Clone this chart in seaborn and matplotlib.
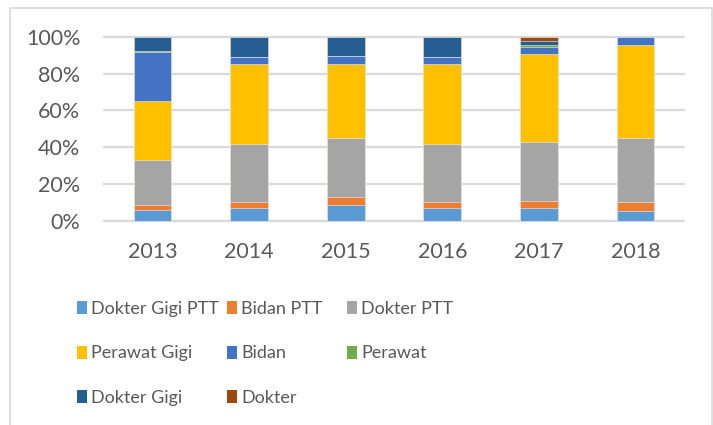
import numpy as np
import pandas as pd
import matplotlib.pyplot as plt
import seaborn as sns
from matplotlib.patches import Rectangle, Patch
from matplotlib.ticker import PercentFormatter

# === Data (share of each staff type per year, %) ===
years = ["2013", "2014", "2015", "2016", "2017", "2018"]
series = ["Dokter Gigi PTT", "Bidan PTT", "Dokter PTT", "Perawat Gigi",
          "Bidan", "Perawat", "Dokter Gigi", "Dokter"]
dokter_gigi_ptt = [6.0, 7.2, 8.8, 7.2, 7.2, 5.3]
bidan_ptt = [2.5, 3.3, 4.4, 3.3, 3.7, 5.0]
dokter_ptt = [24.5, 31.5, 32.0, 31.5, 32.1, 34.6]
perawat_gigi = [32.0, 43.4, 40.2, 43.4, 47.5, 50.8]
bidan = [26.5, 3.6, 4.1, 3.6, 4.1, 4.3]
perawat = [0.8, 0.0, 0.2, 0.0, 0.7, 0.0]
dokter_gigi = [7.5, 10.7, 10.0, 10.7, 2.3, 0.0]
dokter = [0.2, 0.3, 0.3, 0.3, 2.4, 0.0]
colors = ["#5B9BD5", "#ED7D31", "#A5A5A5", "#FFC000",
          "#4472C4", "#70AD47", "#255E91", "#9E480E"]

values = [dokter_gigi_ptt, bidan_ptt, dokter_ptt, perawat_gigi,
          bidan, perawat, dokter_gigi, dokter]
df = pd.DataFrame(np.array(values).T, columns=series, index=years)
df = df.div(df.sum(axis=1), axis=0)
cum = df.cumsum(axis=1).reset_index().rename(columns={"index": "Year"})

sns.set_theme(style="white")
plt.rcParams["font.family"] = ["Lato", "DejaVu Sans"]
text_col = "#595959"

fig = plt.figure(figsize=(7.13, 4.25), dpi=100)
ax = fig.add_axes([0.1459, 0.48, 0.8134, 0.4336])

# stacked bars: draw cumulative totals from top to bottom
for name, col in reversed(list(zip(series, colors))):
    sns.barplot(data=cum, x="Year", y=name, color=col, width=0.39,
                saturation=1, edgecolor="#f2f2f2", linewidth=0.4, ax=ax)

ax.set_ylim(0, 1)
ax.set_xlim(-0.5, 5.5)
ax.set_yticks(np.linspace(0, 1, 6))
ax.yaxis.set_major_formatter(PercentFormatter(1.0, decimals=0))
ax.set_xlabel("")
ax.set_ylabel("")
ax.grid(axis="y", color="#d9d9d9", linewidth=1.6)
ax.set_axisbelow(True)
for line in ax.get_ygridlines():
    line.set_clip_on(False)
for s in ax.spines.values():
    s.set_visible(False)
ax.tick_params(axis="y", length=0, pad=17, labelsize=15.5, labelcolor=text_col)
ax.tick_params(axis="x", length=0, pad=15, labelsize=15.5, labelcolor=text_col)

# legend: three fixed-width columns, filled row by row like the original
col_x = [77 / 713, 227 / 713, 347 / 713]
for c in range(3):
    idx = list(range(c, len(series), 3))
    handles = [Patch(facecolor=colors[i], edgecolor="none") for i in idx]
    labels = [series[i] for i in idx]
    fig.legend(handles, labels, loc="upper left",
               bbox_to_anchor=(col_x[c], 0.292), frameon=False,
               fontsize=13, labelcolor=text_col, handlelength=0.55,
               handleheight=0.75, handletextpad=0.25, labelspacing=1.58,
               borderpad=0, borderaxespad=0)

# chart frame
fig.patches.append(Rectangle((10 / 713, -0.05), 702 / 713, 1.05 - 8 / 425,
                             transform=fig.transFigure, fill=False,
                             edgecolor="#d9d9d9", linewidth=1.2))

fig.savefig("out.png", dpi=100)
